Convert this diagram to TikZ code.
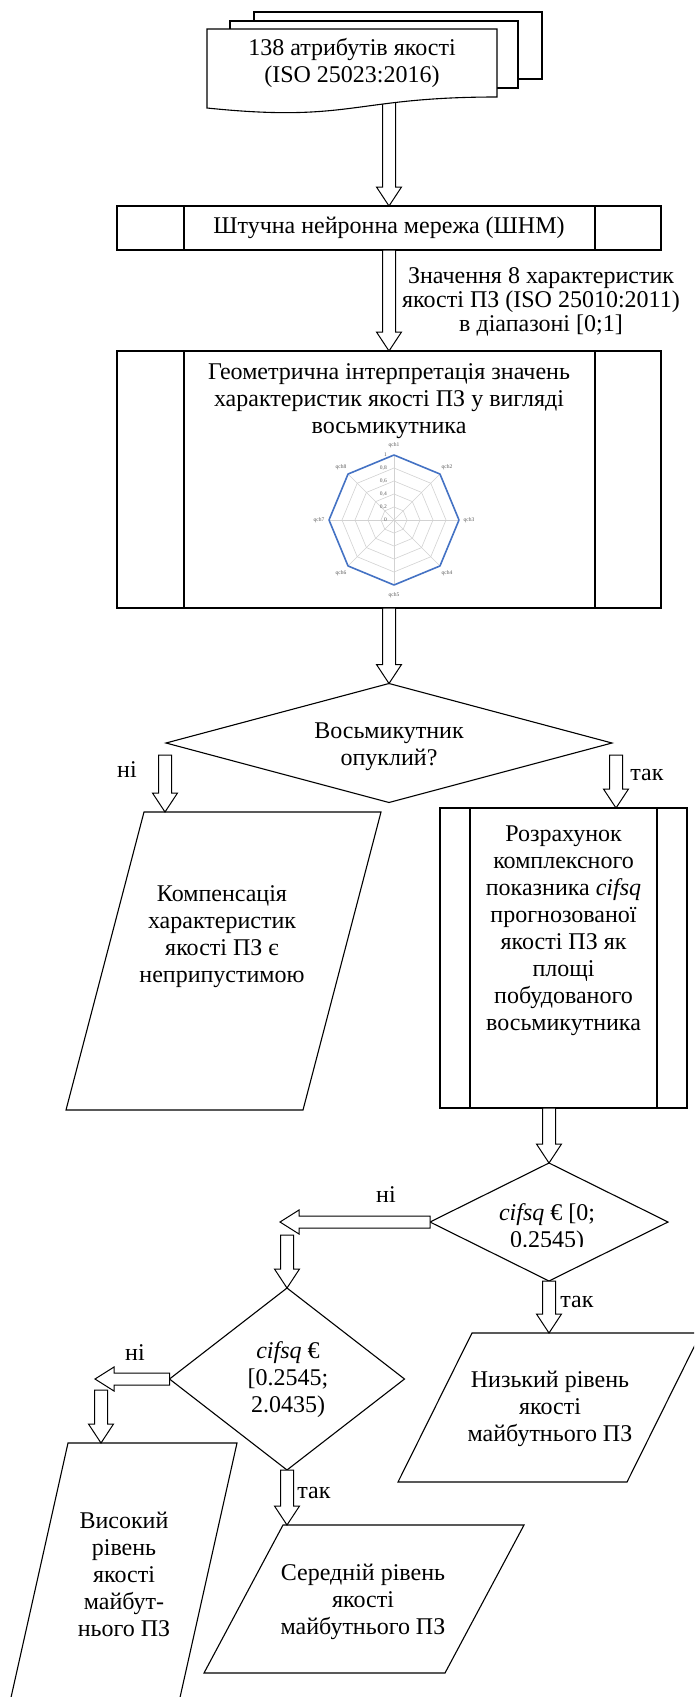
\documentclass[tikz,border=0pt]{standalone}
\usepackage{fontspec}
\setmainfont{Liberation Serif}
\usetikzlibrary{calc,shapes.geometric}

\definecolor{chartblue}{RGB}{68,114,196}
\definecolor{gridgray}{RGB}{210,210,210}
\definecolor{labgray}{RGB}{90,90,90}

% hollow block arrow pointing down: starts at the height of #1, ends at #2 (x taken from #2)
\newcommand\vblk[2]{%
  \path[blockarr] let \p1=#1, \p2=#2 in
    (\x2-6.5pt,\y1) -- (\x2-6.5pt,\y2+19pt) -- (\x2-12.5pt,\y2+19pt) -- (\x2,\y2)
    -- (\x2+12.5pt,\y2+19pt) -- (\x2+6.5pt,\y2+19pt) -- (\x2+6.5pt,\y1) -- cycle;}
% hollow block arrow pointing left: starts at #1, ends at the x of #2 (y taken from #1)
\newcommand\hblk[2]{%
  \path[blockarr] let \p1=#1, \p2=#2 in
    (\x1,\y1-6pt) -- (\x2+19pt,\y1-6pt) -- (\x2+19pt,\y1-12pt) -- (\x2,\y1)
    -- (\x2+19pt,\y1+12pt) -- (\x2+19pt,\y1+6pt) -- (\x1,\y1+6pt) -- cycle;}

\begin{document}
\begin{tikzpicture}[x=1pt,y=-1pt,
  outline/.style={draw, line width=1.1pt, line join=miter},
  box/.style={draw, line width=1.1pt, fill=white, inner sep=0pt, outer sep=0pt},
  decision/.style={draw, diamond, line width=1.1pt, fill=white, inner sep=0pt, outer sep=0pt},
  blockarr/.style={draw, fill=white, line width=1pt, line join=miter},
  txt/.style={align=center, inner sep=0pt, font=\fontsize{24pt}{27pt}\selectfont},
  lbl/.style={inner sep=0pt, font=\fontsize{24pt}{27pt}\selectfont},
  gridline/.style={draw=gridgray, line width=0.6pt},
  tinylab/.style={inner sep=0pt, text=labgray, font=\fontsize{5.5pt}{6pt}\selectfont},
]
\useasboundingbox (0,0) rectangle (694,1697);
\clip (0,0) rectangle (694,1697);
\fill[white] (0,0) rectangle (694,1697);

% ---------- neural network block ----------
\node[box, txt, minimum width=544pt, minimum height=44pt] (ann) at (389,228) {Штучна нейронна мережа (ШНМ)};
\draw[outline] ([xshift=67pt]ann.north west) -- ([xshift=67pt]ann.south west)
               ([xshift=-66pt]ann.north east) -- ([xshift=-66pt]ann.south east);

% ---------- input documents ----------
\coordinate (docs-out) at (389,96);
\vblk{(docs-out)}{(ann.north)}
\draw[outline, fill=white] (254,12) rectangle (542,79);
\draw[outline, fill=white] (230,21) rectangle (518,88);
\draw[outline, fill=white] (207,29) -- (497,29) -- (497,97)
  .. controls (352,97) and (352,123) .. (207,108) -- cycle;
\node[txt] (docs) at (352,63) {138 атрибутів якості\\(ISO 25023:2016)};

% ---------- geometric interpretation block ----------
\node[box, minimum width=544pt, minimum height=257pt] (geo) at (389,479.5) {};
\draw[outline] ([xshift=67pt]geo.north west) -- ([xshift=67pt]geo.south west)
               ([xshift=-66pt]geo.north east) -- ([xshift=-66pt]geo.south east);
\node[txt] (geot) at (389,401) {Геометрична інтерпретація значень\\характеристик якості ПЗ у вигляді\\восьмикутника};
\vblk{(ann.south)}{(geo.north)}
\node[txt, font=\fontsize{24pt}{24pt}\selectfont] (vals) at (541,302)
  {Значення 8 характеристик\\якості ПЗ (ISO 25010:2011)\\в діапазоні [0;1]};

% radar chart of the eight characteristics
\coordinate (rc) at (394,520);
\foreach \r in {13,26,39,52}{
  \path[gridline] ($(rc)+(90:\r pt)$) -- ($(rc)+(45:\r pt)$) -- ($(rc)+(0:\r pt)$)
    -- ($(rc)+(-45:\r pt)$) -- ($(rc)+(-90:\r pt)$) -- ($(rc)+(-135:\r pt)$)
    -- ($(rc)+(180:\r pt)$) -- ($(rc)+(135:\r pt)$) -- cycle;}
\foreach \a in {90,45,...,-225}{\path[gridline] (rc) -- ($(rc)+(\a:65pt)$);}
\draw[chartblue, line width=1.6pt, line join=round]
  ($(rc)+(90:65pt)$) -- ($(rc)+(45:65pt)$) -- ($(rc)+(0:65pt)$)
  -- ($(rc)+(-45:65pt)$) -- ($(rc)+(-90:65pt)$) -- ($(rc)+(-135:65pt)$)
  -- ($(rc)+(180:65pt)$) -- ($(rc)+(135:65pt)$) -- cycle;
\foreach \i/\a in {1/90,2/45,3/0,4/-45,5/-90,6/-135,7/180,8/135}{
  \node[tinylab] (q\i) at ($(rc)+(\a:75pt)$) {qch\i};}
\foreach \k/\v in {0/0,1/{0,2},2/{0,4},3/{0,6},4/{0,8},5/1}{
  \node[tinylab, anchor=east] (t\k) at ($(rc)+(-7pt,13*\k pt)$) {\v};}

% ---------- convexity check ----------
\node[decision, minimum width=446pt, minimum height=119pt] (dec1) at (389,743) {};
\node[txt] (dec1t) at (389,747) {Восьмикутник\\опуклий?};
\vblk{(geo.south)}{(dec1.north)}

% not convex
\draw[outline, fill=white] (144,812) -- (381,812) -- (303,1110) -- (66,1110) -- cycle;
\coordinate (rej-in) at (165,812);
\node[txt] (rej) at (222,937) {Компенсація\\характеристик\\якості ПЗ є\\неприпустимою};
\coordinate (no1-out) at (165,755);
\vblk{(no1-out)}{(rej-in)}
\node[lbl] (no1) at (127,770) {ні};

% convex: area computation
\node[box, minimum width=247pt, minimum height=300pt] (cifbox) at (563.5,958) {};
\draw[outline] ([xshift=30pt]cifbox.north west) -- ([xshift=30pt]cifbox.south west)
               ([xshift=-30pt]cifbox.north east) -- ([xshift=-30pt]cifbox.south east);
\node[txt] (cift) at (563.5,931) {Розрахунок\\комплексного\\показника \textit{cifsq}\\прогнозованої\\якості ПЗ як\\площі\\побудованого\\восьмикутника};
\coordinate (yes1-out) at (616,755);
\coordinate (cif-in) at (616,808);
\vblk{(yes1-out)}{(cif-in)}
\node[lbl] (yes1) at (647,775) {так};

% ---------- first range check ----------
\node[decision, minimum width=238pt, minimum height=118pt] (dec2) at (549,1222) {};
\begin{scope}
  \clip (430,1150) rectangle (680,1246);
  \node[txt] (dec2t) at (547,1228) {\textit{cifsq} € [0;\\0.2545)};
\end{scope}
\vblk{(cifbox.south)}{(dec2.north)}

% low quality
\draw[outline, fill=white] (472,1333) -- (701,1333) -- (627,1482) -- (398,1482) -- cycle;
\coordinate (low-in) at (549,1333);
\node[txt] (lowt) at (550,1409) {Низький рівень\\якості\\майбутнього ПЗ};
\vblk{(dec2.south)}{(low-in)}
\node[lbl] (yes2) at (577,1302) {так};

% ---------- second range check ----------
\coordinate (no2-end) at (280,1222);
\hblk{(dec2.west)}{(no2-end)}
\node[lbl] (no2) at (386,1195) {ні};
\node[decision, minimum width=235pt, minimum height=182pt] (dec3) at (287,1379) {};
\node[txt] (dec3t) at (288,1380) {\textit{cifsq} €\\{}[0.2545;\\2.0435)};
\coordinate (no2-down) at (288,1235);
\vblk{(no2-down)}{(dec3.north)}

% high quality
\draw[outline, fill=white] (68,1443) -- (237,1443) -- (166,1760) -- (-3,1760) -- cycle;
\coordinate (high-in) at (101,1443);
\node[txt] (hight) at (124,1574) {Високий\\рівень\\якості\\майбут-\\нього ПЗ};
\coordinate (no3-end) at (95,1379);
\hblk{(dec3.west)}{(no3-end)}
\coordinate (no3-down) at (101,1390);
\vblk{(no3-down)}{(high-in)}
\node[lbl] (no3) at (135,1353) {ні};

% medium quality
\draw[outline, fill=white] (283,1525) -- (524,1525) -- (445,1673) -- (204,1673) -- cycle;
\coordinate (mid-in) at (287,1525);
\node[txt] (midt) at (363,1602) {Середній рівень\\якості\\майбутнього ПЗ};
\vblk{(dec3.south)}{(mid-in)}
\node[lbl] (yes3) at (314,1493) {так};
\end{tikzpicture}
\end{document}
